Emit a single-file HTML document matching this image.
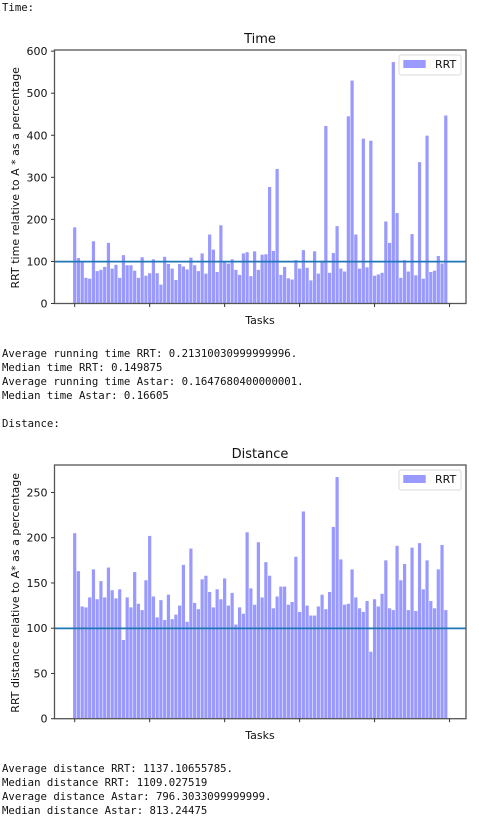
<!DOCTYPE html>
<html>
<head>
<meta charset="utf-8">
<title>RRT vs A* charts</title>
<style>
html,body{margin:0;padding:0;background:#fff;}
body{position:relative;width:479px;height:824px;overflow:hidden;}
.out{position:absolute;left:2px;margin:0;font:10.67px/14px "DejaVu Sans Mono","Liberation Mono",monospace;color:#111;white-space:pre;}
svg{position:absolute;left:0;top:0;}
svg text{font-family:"DejaVu Sans","Liberation Sans",sans-serif;fill:#111;}
</style>
</head>
<body>
<pre class="out" style="top:1px">Time:</pre>
<pre class="out" style="top:347px">Average running time RRT: 0.21310030999999996.
Median time RRT: 0.149875
Average running time Astar: 0.1647680400000001.
Median time Astar: 0.16605</pre>
<pre class="out" style="top:417px">Distance:</pre>
<pre class="out" style="top:762px">Average distance RRT: 1137.10655785.
Median distance RRT: 1109.027519
Average distance Astar: 796.3033099999999.
Median distance Astar: 813.24475</pre>
<svg id="chart" width="479" height="824" viewBox="0 0 479 824"></svg>
<script>
const timeValues = [181,108,100,61,59,148,77,80,87,144,83,92,61,115,91,91,78,61,110,66,72,105,72,45,111,94,83,56,94,88,81,109,91,77,119,71,164,128,75,186,100,95,105,80,68,119,122,65,124,80,116,117,277,125,320,68,87,60,57,103,83,127,85,55,124,71,102,422,73,120,184,83,76,445,530,164,83,392,86,387,66,69,73,195,144,574,215,61,103,76,165,67,336,59,399,75,78,113,95,447];
const distanceValues = [205,163,124,123,134,165,132,152,134,167,142,133,143,87,134,123,162,127,120,153,202,135,112,131,109,137,110,115,125,170,107,188,128,121,154,158,140,123,143,132,155,125,139,104,123,116,206,144,126,195,134,173,158,122,135,146,146,126,129,179,118,229,125,114,114,124,137,121,140,212,267,176,126,127,165,134,122,118,130,74,132,124,138,175,122,120,191,153,171,120,189,119,194,143,175,130,122,165,192,120];
const timeTicks = [0,100,200,300,400,500,600];
const distanceTicks = [0,50,100,150,200,250];
const taskTicks = [0,20,40,60,80,100];
const referenceLevel = 100;
const seriesName = 'RRT';

const NS = 'http://www.w3.org/2000/svg';
const root = document.getElementById('chart');

function make(tag, attrs, parent, text) {
  const el = document.createElementNS(NS, tag);
  for (const k in attrs) el.setAttribute(k, attrs[k]);
  if (text !== undefined) el.textContent = text;
  parent.appendChild(el);
  return el;
}

function drawChart(cfg) {
  const L = 54.5, R = 466, T = cfg.top, B = cfg.bottom;
  const xDomainMin = -5.39, xDomainMax = 104.39;
  const maxValue = Math.max(...cfg.values);
  const yMax = maxValue * 1.05;
  const x = function (v) { return L + (v - xDomainMin) / (xDomainMax - xDomainMin) * (R - L); };
  const y = function (v) { return B - v / yMax * (B - T); };

  const g = make('g', {}, root);
  
  

  cfg.values.forEach(function (v, i) {
    const bar = make('rect', {
      x: x(i) - 1.6, y: y(v), width: 3.2, height: B - y(v), fill: '#9999ff'
    }, g);
    
    
  });

  const ref = make('line', {
    x1: L, x2: R, y1: y(referenceLevel) + 0.2, y2: y(referenceLevel) + 0.2,
    stroke: '#1f77b4', 'stroke-width': 1.7
  }, g);
  
  

  const frame = make('rect', {
    x: L, y: T, width: R - L, height: B - T, fill: 'none',
    stroke: '#555', 'stroke-width': 1.3
  }, g);
  
  

  cfg.ticks.forEach(function (t) {
    const mark = make('line', {
      x1: L - 3.5, x2: L, y1: y(t), y2: y(t), stroke: '#333', 'stroke-width': 1
    }, g);
    
    
    const label = make('text', {
      x: L - 7, y: y(t) + 4, 'text-anchor': 'end', 'font-size': 11
    }, g, String(t));
    
    
  });

  taskTicks.forEach(function (t) {
    const mark = make('line', {
      x1: x(t), x2: x(t), y1: B, y2: B + 3.5, stroke: '#333', 'stroke-width': 1
    }, g);
    
    
  });

  const title = make('text', {
    x: 260, y: T - 7, 'text-anchor': 'middle', 'font-size': 13
  }, g, cfg.title);
  
  

  const xTitle = make('text', {
    x: 260, y: B + 20.5, 'text-anchor': 'middle', 'font-size': 11
  }, g, 'Tasks');
  
  

  const cy = (T + B) / 2 + 1;
  const yTitle = make('text', {
    x: 0, y: 0, 'text-anchor': 'middle', 'font-size': 11,
    transform: 'translate(19 ' + cy + ') rotate(-90)'
  }, g, cfg.yTitle);
  
  

  const legend = make('g', {}, g);
  
  
  make('rect', {
    x: 399, y: T + 5, width: 62, height: 20, rx: 2, fill: '#fff', 'fill-opacity': 0.8,
    stroke: '#d8d8d8', 'stroke-width': 0.9
  }, legend);
  const swatch = make('rect', {
    x: 403.3, y: T + 10, width: 22.4, height: 8, fill: '#9999ff'
  }, legend);
  
  
  const legendText = make('text', {
    x: 435, y: T + 18, 'font-size': 11
  }, legend, seriesName);
  
  
}

drawChart({
  name: 'time', title: 'Time', values: timeValues, ticks: timeTicks,
  top: 50, bottom: 303.5, yTitle: 'RRT time relative to A * as a percentage'
});
drawChart({
  name: 'distance', title: 'Distance', values: distanceValues, ticks: distanceTicks,
  top: 465, bottom: 718.7, yTitle: 'RRT distance relative to A* as a percentage'
});
</script>
</body>
</html>
